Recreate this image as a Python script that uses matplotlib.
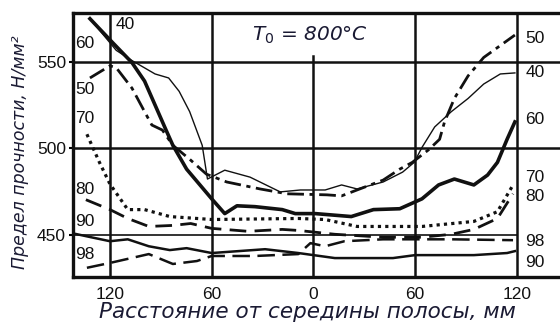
import matplotlib.pyplot as plt

# distance from strip centre, mm (left half shown as negative) / strength, N/mm2
x40 = [-131.8, -116.3, -107.0, -93.4, -85.4, -79.2, -73.0, -65.6, -62.5, -52.3, -37.4, -19.6, -7.7,
       6.9, 16.6, 25.7, 41.1, 52.6, 59.4, 64.0, 71.5, 81.3, 91.2, 100.4, 110.2, 118.8]
y40 = [574.7, 556.5, 550.6, 542.9, 540.6, 532.9, 521.2, 501.8, 482.4, 487.5, 483.5, 475.0, 476.1,
       476.1, 479.0, 476.7, 480.7, 486.4, 492.0, 500.6, 512.4, 521.2, 528.8, 537.1, 542.9, 543.5]

x60 = [-131.8, -118.1, -107.0, -99.6, -87.2, -82.9, -74.8, -60.0, -52.3, -45.1, -34.5, -18.4, -10.7,
       1.1, 22.3, 35.4, 50.9, 64.0, 73.8, 83.1, 94.6, 102.7, 108.5, 114.2, 118.8]
y60 = [574.7, 560.6, 549.4, 538.8, 511.2, 501.8, 488.1, 471.0, 462.5, 467.0, 466.5, 464.8, 462.5,
       462.5, 460.8, 464.8, 465.3, 471.0, 479.0, 482.4, 479.0, 484.7, 492.0, 505.3, 515.3]

x50 = [-131.8, -120.0, -116.3, -107.0, -99.6, -95.3, -89.1, -82.9, -73.0, -63.1, -51.1, -31.5, -15.5,
       8.0, 16.6, 25.7, 41.1, 50.9, 58.3, 68.1, 74.4, 77.3, 83.1, 91.2, 100.4, 118.8]
y50 = [540.6, 547.6, 546.5, 534.7, 521.2, 513.5, 510.6, 501.8, 493.8, 485.2, 480.7, 476.7, 473.9,
       473.3, 472.7, 476.1, 481.8, 488.1, 492.0, 499.4, 505.3, 515.3, 528.8, 541.8, 552.4, 565.3]

x70 = [-133.6, -126.2, -120.0, -109.5, -99.6, -84.7, -60.0, -8.9, 6.9, 25.7, 64.0, 94.6, 108.5, 117.7]
y70 = [508.2, 492.0, 479.5, 464.8, 464.8, 460.8, 459.1, 459.7, 459.1, 455.1, 455.1, 458.0, 463.6, 479.0]

x80 = [-134.2, -120.0, -109.5, -97.1, -82.9, -72.4, -60.0, -38.6, -18.4, -8.9, 12.6, 41.1, 64.0,
       81.3, 94.6, 108.5, 117.7]
y80 = [470.5, 464.8, 459.7, 455.1, 455.7, 456.8, 454.0, 452.3, 453.4, 452.8, 450.6, 448.9, 448.9,
       450.6, 453.4, 459.7, 473.9]

x90 = [-141.7, -133.6, -120.0, -109.5, -97.1, -84.7, -74.8, -60.0, -28.5, -8.9, 12.6, 46.9, 60.0,
       94.6, 114.2, 118.8]
y90 = [451.1, 449.4, 446.6, 447.7, 443.7, 441.5, 442.6, 439.8, 442.0, 439.8, 436.9, 436.9, 438.6,
       438.6, 439.8, 440.9]

x98 = [-133.6, -120.0, -97.1, -82.9, -68.7, -60.0, -34.5, -8.9, -1.8, 6.9, 18.3, 41.1, 81.3, 117.7]
y98 = [431.3, 434.1, 439.2, 433.5, 435.2, 438.1, 438.1, 439.2, 445.5, 443.7, 446.6, 447.7, 447.7, 447.2]

xticks = [-120, -60, 0, 60, 120]
xticklabels = ["120", "60", "0", "60", "120"]
yticks = [450, 500, 550]

labels_left = [("40", -111.1, 571.1), ("60", -134.7, 560.2), ("50", -134.7, 533.7), ("70", -134.7, 517.5),
               ("80", -134.7, 476.1), ("90", -134.7, 457.7), ("98", -134.7, 438.7)]
labels_right = [("50", 130.6, 563.6), ("40", 130.6, 544.0), ("60", 130.6, 516.4), ("70", 130.6, 483.0),
                ("80", 130.6, 472.1), ("98", 130.6, 446.7), ("90", 130.6, 434.6)]

ink = "#111111"
txt = "#1a1a33"
num_font = ["Liberation Sans Narrow", "Liberation Sans", "DejaVu Sans"]

fig = plt.figure(figsize=(5.6, 3.25), dpi=100)
ax = fig.add_axes([73 / 560, 48 / 325, 1 - 73 / 560, (312 - 48) / 325])
ax.set_xlim(-141.8, 145.4)
ax.set_ylim(426, 578)

# grid drawn by hand, as in the book figure
for xv in xticks:
    top = 0.839 if xv == 0 else 1.0
    ax.axvline(xv, ymax=top, color=ink, lw=1.8, zorder=1)
ax.axhline(550, color=ink, lw=1.8, zorder=1)
ax.axhline(500, color=ink, lw=1.8, zorder=1)
ax.axhline(450, xmax=(120 + 141.8) / 287.2, color=ink, lw=1.2, zorder=1)

ax.plot(x40, y40, color=ink, lw=1.0)
ax.plot(x60, y60, color=ink, lw=2.6)
ax.plot(x50, y50, color=ink, lw=2.0, ls=(0, (6, 2, 1.5, 2)))
ax.plot(x70, y70, color=ink, lw=2.3, ls=(0, (1, 1.3)))
ax.plot(x80, y80, color=ink, lw=2.0, ls=(0, (6, 3)))
ax.plot(x90, y90, color=ink, lw=1.8)
ax.plot(x98, y98, color=ink, lw=1.8, ls=(0, (7, 3)))

for s, xv, yv in labels_left + labels_right:
    ax.text(xv, yv, s, ha="center", va="center", fontsize=12.5, family=num_font, color=ink)

ax.text(-2, 565.3, r"$T_0$ = 800°C", ha="center", va="center", fontsize=14.5,
        style="italic", color=txt)

for side in ["left", "top", "bottom"]:
    ax.spines[side].set_linewidth(2.4)
    ax.spines[side].set_color(ink)
ax.spines["right"].set_visible(False)

ax.set_xticks(xticks)
ax.set_xticklabels(xticklabels, fontsize=12.5, family=num_font, color=ink)
ax.set_yticks(yticks)
ax.set_yticklabels([str(v) for v in yticks], fontsize=12.5, family=num_font, color=ink)
ax.tick_params(axis="x", length=0, pad=7)
ax.tick_params(axis="y", length=3, width=1.5, pad=2)

fig.text(307 / 560, 1 - 312 / 325, "Расстояние от середины полосы, мм", ha="center", va="center",
         fontsize=15.5, style="italic", color=txt)
fig.text(20 / 560, 1 - 152 / 325, "Предел прочности, Н/мм²", ha="center", va="center",
         rotation=90, fontsize=12.5, style="italic", color=txt)

fig.savefig("out.png", dpi=100, facecolor="white")
